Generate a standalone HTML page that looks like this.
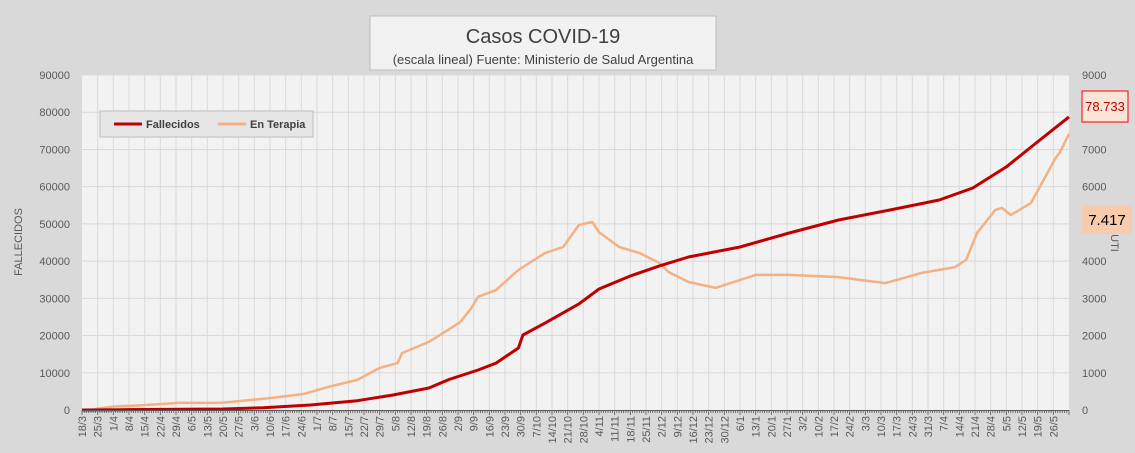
<!DOCTYPE html>
<html><head><meta charset="utf-8">
<style>
body{margin:0;background:#d9d9d9;font-family:"Liberation Sans",sans-serif;}
svg{display:block}
</style></head>
<body>
<svg id="chart" width="1135" height="453" viewBox="0 0 1135 453" xmlns="http://www.w3.org/2000/svg">
<rect x="0" y="0" width="1135" height="453" fill="#d9d9d9"/>
<rect x="82" y="75" width="987" height="335" fill="#f2f2f2"/>
<g id="grid"></g>
<g id="series"></g>
<g id="axes"></g>
<g>
<rect x="370" y="16" width="346" height="54" fill="#f2f2f2" stroke="#bfbfbf"/>
<text x="543" y="43" text-anchor="middle" font-size="20" fill="#404040">Casos COVID-19</text>
<text x="543" y="64" text-anchor="middle" font-size="13" fill="#404040">(escala lineal) Fuente: Ministerio de Salud Argentina</text>
</g>
<g>
<rect x="100" y="111" width="213" height="26" fill="#e7e6e6" stroke="#bfbfbf"/>
<line x1="114" y1="124" x2="142" y2="124" stroke="#c00000" stroke-width="3"/>
<text x="146" y="128" font-size="11" font-weight="bold" fill="#404040">Fallecidos</text>
<line x1="218" y1="124" x2="246" y2="124" stroke="#f4b183" stroke-width="3"/>
<text x="250" y="128" font-size="11" font-weight="bold" fill="#404040">En Terapia</text>
</g>
<text transform="translate(22,242) rotate(-90)" text-anchor="middle" font-size="11" fill="#595959">FALLECIDOS</text>
<text transform="translate(1111,243) rotate(90)" text-anchor="middle" font-size="11" fill="#595959">UTI</text>
<g>
<rect x="1082" y="91" width="46" height="31" fill="#fce4d6" stroke="#ff0000"/>
<text x="1105" y="111" text-anchor="middle" font-size="13" fill="#c00000">78.733</text>
</g>
<g>
<rect x="1082" y="205" width="50" height="29" fill="#f8cbad"/>
<text x="1107" y="225" text-anchor="middle" font-size="15" fill="#000">7.417</text>
</g>
</svg>
<script>
const xLabels=["18/3","25/3","1/4","8/4","15/4","22/4","29/4","6/5","13/5","20/5","27/5","3/6","10/6","17/6","24/6","1/7","8/7","15/7","22/7","29/7","5/8","12/8","19/8","26/8","2/9","9/9","16/9","23/9","30/9","7/10","14/10","21/10","28/10","4/11","11/11","18/11","25/11","2/12","9/12","16/12","23/12","30/12","6/1","13/1","20/1","27/1","3/2","10/2","17/2","24/2","3/3","10/3","17/3","24/3","31/3","7/4","14/4","21/4","28/4","5/5","12/5","19/5","26/5"];
const leftTicks=[0,10000,20000,30000,40000,50000,60000,70000,80000,90000];
const rightTicks=[0,1000,2000,3000,4000,5000,6000,7000,8000,9000];
const deathDays=[0,17,45,63,81,102,123,139,155,164,177,185,195,197,207,222,231,245,258,271,294,316,338,361,383,398,413,428,441];
const deathVals=[0,80,200,270,620,1340,2500,4030,5900,8200,10750,12600,16660,20150,23400,28500,32500,36000,38700,41100,43800,47560,51050,53740,56430,59650,65300,72550,78733];
const utiDays=[6,14,27,43,62,72,84,99,110,123,133,141,143,155,169,174,177,185,195,207,215,222,228,231,240,249,258,262,271,283,294,301,316,338,359,375,390,395,400,408,411,415,424,435,437,441];
const utiVals=[30,90,130,190,190,250,320,430,620,810,1130,1260,1530,1830,2360,2740,3040,3220,3760,4220,4380,4970,5050,4780,4380,4220,3950,3710,3440,3280,3490,3630,3630,3570,3410,3680,3840,4030,4760,5370,5430,5240,5560,6770,6930,7417];
const NS="http://www.w3.org/2000/svg";
const X0=82,X1=1069,Y0=410,Y1=75,TOTAL_DAYS=441;
function xDay(d){return X0+(X1-X0)*d/TOTAL_DAYS;}
function yLeft(v){return Y0-(Y0-Y1)*v/90000;}
function yRight(v){return Y0-(Y0-Y1)*v/9000;}
function mk(tag,attrs,parent){const e=document.createElementNS(NS,tag);for(const k in attrs)e.setAttribute(k,attrs[k]);parent.appendChild(e);return e;}
const grid=document.getElementById('grid'),axes=document.getElementById('axes'),series=document.getElementById('series');
leftTicks.forEach((t,i)=>{
 const y=yLeft(t);
 if(i>0){const g=mk('line',{x1:X0,x2:X1,y1:y,y2:y,stroke:'#d9d9d9','stroke-width':1},grid);
 
 }
 const tl=mk('text',{x:70,y:y+4,'text-anchor':'end','font-size':11,fill:'#595959'},axes);
 tl.textContent=String(t);
 
 
});
rightTicks.forEach(t=>{
 const y=yRight(t);
 const tl=mk('text',{x:1082,y:y+4,'font-size':11,fill:'#595959'},axes);
 tl.textContent=String(t);
 
 
});
xLabels.forEach((l,i)=>{
 const x=xDay(i*7);
 if(i>0){const g=mk('line',{x1:x,x2:x,y1:Y1,y2:Y0,stroke:'#d9d9d9','stroke-width':1},grid);
 
 }
 const tl=mk('text',{transform:`translate(${x+4},${416}) rotate(-90)`,'text-anchor':'end','font-size':11,fill:'#595959'},axes);
 tl.textContent=l;
 
 
});
const axl=mk('line',{x1:X0,x2:X1,y1:Y0+0.5,y2:Y0+0.5,stroke:'#595959','stroke-width':1},axes);


let tp='';
for(let d=0;d<=TOTAL_DAYS;d++){const x=xDay(d).toFixed(1);tp+=`M${x} ${Y0}V${Y0+(d%7===0?5:3)}`;}
const ticks=mk('path',{d:tp,stroke:'#595959','stroke-width':0.8},axes);


const pu=mk('polyline',{points:utiDays.map((d,i)=>xDay(d).toFixed(1)+','+yRight(utiVals[i]).toFixed(1)).join(' '),fill:'none',stroke:'#f4b183','stroke-width':2.5,'stroke-linejoin':'round'},series);


const pd=mk('polyline',{points:deathDays.map((d,i)=>xDay(d).toFixed(1)+','+yLeft(deathVals[i]).toFixed(1)).join(' '),fill:'none',stroke:'#c00000','stroke-width':3,'stroke-linejoin':'round'},series);


</script>
</body></html>
